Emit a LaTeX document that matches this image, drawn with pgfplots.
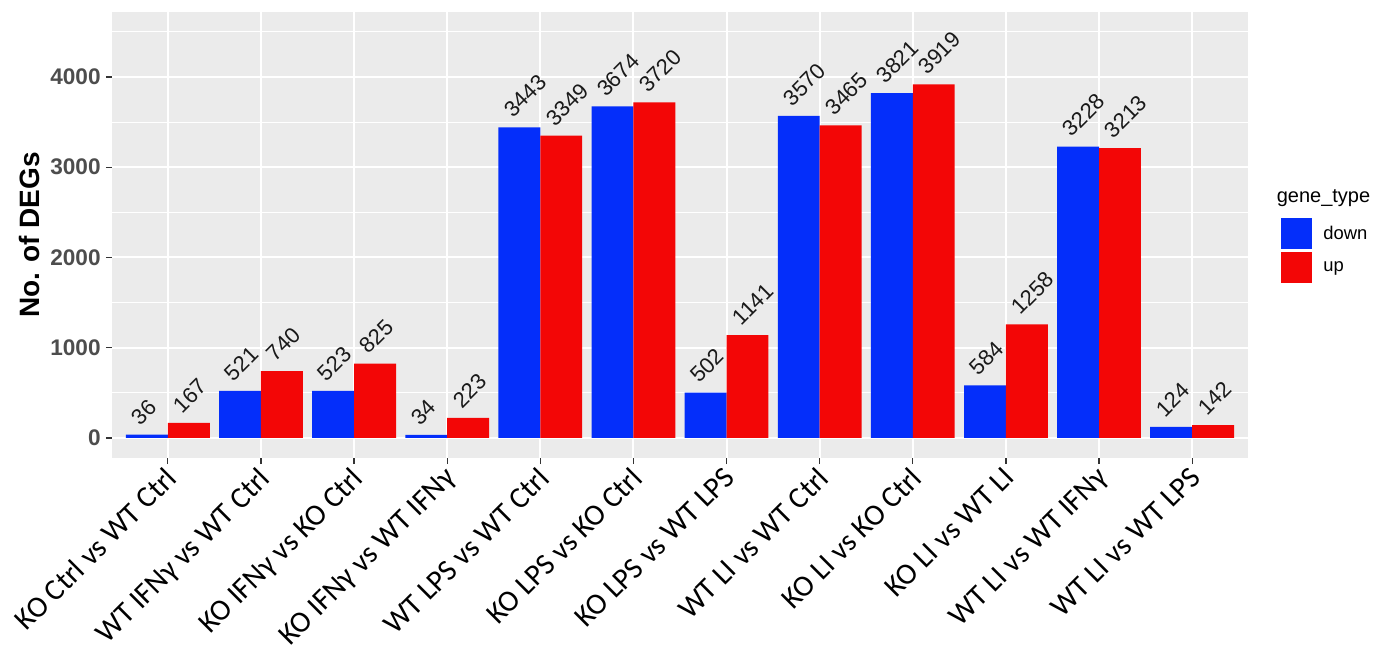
\documentclass[border=0pt]{standalone}
\usepackage{pgfplots}
\pgfplotsset{compat=1.18}
\usepackage{pgfplotstable}
\usepackage{fontspec}
\setmainfont{Liberation Sans}
\newfontfamily\calibri{Carlito}
\definecolor{barblue}{RGB}{4,46,250}
\definecolor{barred}{RGB}{243,6,6}
\definecolor{panelbg}{RGB}{235,235,235}
\definecolor{tickgrey}{RGB}{77,77,77}
\definecolor{tickmark}{RGB}{51,51,51}
\definecolor{valtext}{RGB}{25,25,25}

\pgfplotstableread{
x down up
1 36 167
2 521 740
3 523 825
4 34 223
5 3443 3349
6 3674 3720
7 502 1141
8 3570 3465
9 3821 3919
10 584 1258
11 3228 3213
12 124 142
}\datatable

\begin{document}
\begin{tikzpicture}
\useasboundingbox (-56pt,-96pt) rectangle (635pt,229pt);
\begin{axis}[
  at={(0,0)}, anchor=south west,
  scale only axis, width=568pt, height=223pt,
  xmin=0.4, xmax=12.6, ymin=-222, ymax=4720,
  clip=false,
  axis background/.style={fill=panelbg},
  axis line style={draw=none},
  ybar=0pt, bar width=0.45,
  xtick={1,...,12},
  xticklabels={KO Ctrl vs WT Ctrl, WT IFNγ vs WT Ctrl, KO IFNγ vs KO Ctrl, KO IFNγ vs WT IFNγ, WT LPS vs WT Ctrl, KO LPS vs KO Ctrl, KO LPS vs WT LPS, WT LI vs WT Ctrl, KO LI vs KO Ctrl, KO LI vs WT LI, WT LI vs WT IFNγ, WT LI vs WT LPS},
  ytick={0,1000,2000,3000,4000},
  minor ytick={500,1500,2500,3500,4500},
  xmajorgrids, ymajorgrids, yminorgrids,
  major grid style={white, line width=1pt},
  minor grid style={white, line width=0.5pt},
  tick align=outside, major tick length=3pt, minor tick length=0pt,
  tick style={tickmark, line width=0.6pt},
  xtick pos=bottom, ytick pos=left,
  /pgf/number format/1000 sep={},
  /pgf/number format/assume math mode=true,
  yticklabel style={font=\fontsize{11.3}{13}\selectfont\bfseries, text=tickgrey, inner sep=0pt, xshift=-2.5pt},
  xticklabel style={font=\calibri\fontsize{15}{18}\selectfont, text=black, inner sep=0pt, xshift=-2pt, yshift=-0.5pt, rotate=45, anchor=north east},
  ylabel={No. of DEGs},
  ylabel style={font=\fontsize{14}{16}\selectfont\bfseries, at={(rel axis cs:-0.0722,0.5)}, anchor=center},
  nodes near coords,
  nodes near coords style={font=\fontsize{11}{13}\selectfont, text=valtext, inner sep=0pt, xshift=-3pt, yshift=4pt, rotate=45, anchor=south west},
  legend style={at={(rel axis cs:1.029,0.538)}, anchor=north west, draw=none, fill=none, font=\fontsize{9.2}{11}\selectfont, row sep=1.5pt, column sep=5.5pt, inner sep=0pt, nodes={inner sep=0pt}},
  legend cell align=left,
]
\addplot[fill=barblue, draw=none, legend image code/.code={\fill[barblue] (0pt,-7.75pt) rectangle (15.5pt,7.75pt);}] table[x=x, y=down] {\datatable};
\addlegendentry{down}
\addplot[fill=barred, draw=none, legend image code/.code={\fill[barred] (0pt,-7.75pt) rectangle (15.5pt,7.75pt);}] table[x=x, y=up] {\datatable};
\addlegendentry{up}
\node[anchor=west, font=\fontsize{10}{12}\selectfont, inner sep=0pt] at (rel axis cs:1.025,0.583) {gene\_type};
\end{axis}
\end{tikzpicture}
\end{document}
